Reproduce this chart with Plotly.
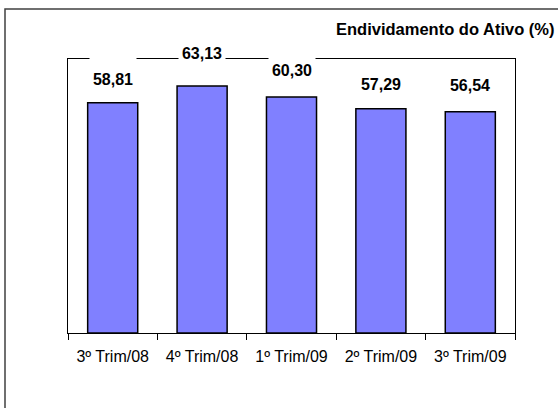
import plotly.graph_objects as go

categories = ["3º Trim/08", "4º Trim/08", "1º Trim/09", "2º Trim/09", "3º Trim/09"]
values = [58.81, 63.13, 60.30, 57.29, 56.54]
value_labels = ["58,81", "63,13", "60,30", "57,29", "56,54"]
title_text = "Endividamento do Ativo (%)"

label_shift = [14, 23, 17, 15, 17]

W, H = 558, 408
ml, mr, mt, mb = 68, 43, 59, 75
pw, ph = W - ml - mr, H - mt - mb

FONT = "Liberation Sans, Arial, sans-serif"

fig = go.Figure()
fig.add_trace(go.Bar(
    x=categories, y=values,
    marker=dict(color="#8080FF", line=dict(color="black", width=1.5)),
    hoverinfo="skip",
))

for c, v, t, s in zip(categories, values, value_labels, label_shift):
    fig.add_annotation(
        x=c, y=v, xref="x", yref="y", text="<b>%s</b>" % t, showarrow=False,
        yanchor="bottom", valign="bottom", yshift=s,
        width=46, height=32, bgcolor="white", borderpad=0,
        font=dict(family=FONT, size=16, color="black"),
    )

fig.add_annotation(
    x=(W - 2 - ml) / pw, y=(H - mb - 29) / ph, xref="paper", yref="paper",
    xanchor="right", yanchor="middle", showarrow=False,
    text="<b>%s</b>" % title_text,
    font=dict(family=FONT, size=16.5, color="black"),
)

# outer frame (extends past the right and bottom edges)
fig.add_shape(
    type="rect", xref="paper", yref="paper",
    x0=(5 - ml) / pw, x1=(W + 10 - ml) / pw,
    y0=(H - mb - (H + 10)) / ph, y1=(H - mb - 9) / ph,
    line=dict(color="#404040", width=1.5), fillcolor="rgba(0,0,0,0)", layer="below",
)

fig.update_layout(
    width=W, height=H, margin=dict(l=ml, r=mr, t=mt, b=mb),
    paper_bgcolor="white", plot_bgcolor="white",
    showlegend=False, bargap=0.44,
    font=dict(family=FONT, size=16, color="black"),
)
fig.update_xaxes(
    showline=True, linecolor="black", linewidth=1.2, mirror=True,
    ticks="outside", tickson="boundaries", ticklen=6, tickcolor="black", tickwidth=1,
    ticklabelstandoff=9,
    tickangle=0, showgrid=False, tickfont=dict(family=FONT, size=16, color="black"),
)
fig.update_yaxes(
    range=[0, 70], showline=True, linecolor="black", linewidth=1, mirror=True,
    showticklabels=False, ticks="", showgrid=False, zeroline=False,
)

fig.write_html("out.html")
